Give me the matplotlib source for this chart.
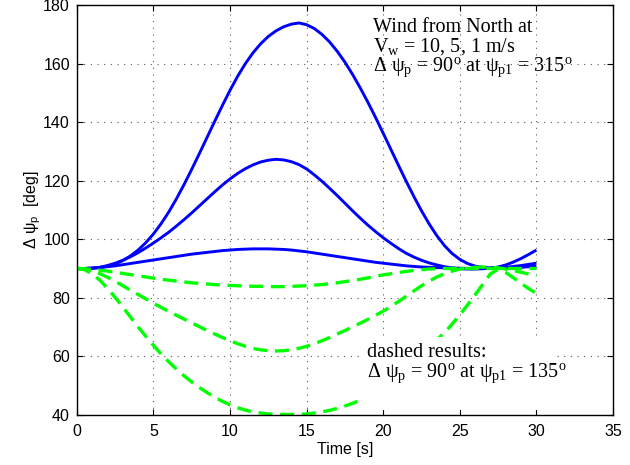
import numpy as np
import matplotlib
matplotlib.use("Agg")
import matplotlib.pyplot as plt
from matplotlib.patches import Rectangle

plt.rcParams['mathtext.fontset'] = 'custom'
plt.rcParams['mathtext.rm'] = 'Liberation Serif'
plt.rcParams['mathtext.it'] = 'Liberation Serif'
plt.rcParams['mathtext.bf'] = 'Liberation Serif:bold'
plt.rcParams['mathtext.sf'] = 'Liberation Sans'
plt.rcParams['font.family'] = ['Liberation Sans', 'DejaVu Sans']

# ---------------- data ----------------
time_s = [i * 0.5 for i in range(61)]  # 0 .. 30 s

blue_large = [90, 90, 90.1, 90.35, 90.8, 91.5, 92.7, 94.3, 96.3, 98.8,
              101.8, 105.3, 109.3, 113.8, 118.7, 123.9, 129.3, 134.8, 140.3, 145.7,
              150.9, 155.7, 160, 163.7, 166.8, 169.3, 171.2, 172.6, 173.5, 173.9,
              173.3, 172.0, 170.0, 167.4, 164.2, 160.5, 156.3, 151.7, 146.8, 141.6,
              136.2, 130.7, 125.2, 119.8, 114.6, 109.7, 105.2, 101.2, 97.8, 95.1,
              93.1, 91.7, 90.8, 90.35, 90.2, 90.2, 90.4, 90.7, 91, 91.4, 91.8]
blue_medium = [90, 90, 90.1, 90.4, 91, 91.8, 92.8, 94, 95.4, 97,
               98.7, 100.5, 102.4, 104.5, 106.7, 109, 111.4, 113.8, 116.2, 118.5,
               120.6, 122.5, 124.1, 125.4, 126.4, 127, 127.3, 127.1, 126.5, 125.5,
               124, 122, 119.8, 117.4, 114.9, 112.3, 109.7, 107.2, 104.8, 102.6,
               100.5, 98.6, 96.8, 95.2, 93.9, 92.8, 91.9, 91.2, 90.6, 90.2,
               89.9, 89.8, 89.8, 89.9, 90.1, 90.5, 91.2, 92.2, 93.4, 94.8, 96.3]
blue_small = [90, 90, 90.1, 90.3, 90.6, 90.9, 91.3, 91.7, 92.1, 92.5,
              92.9, 93.3, 93.7, 94.1, 94.5, 94.9, 95.2, 95.5, 95.8, 96.1,
              96.3, 96.5, 96.6, 96.7, 96.7, 96.7, 96.6, 96.5, 96.3, 96,
              95.7, 95.3, 94.9, 94.5, 94.1, 93.7, 93.3, 92.9, 92.5, 92.1,
              91.8, 91.5, 91.2, 90.9, 90.7, 90.5, 90.4, 90.3, 90.2, 90.1,
              90.1, 90, 90, 90, 90, 90.1, 90.2, 90.3, 90.4, 90.6, 90.8]

green_shallow = [90, 89.9, 89.7, 89.4, 89.1, 88.7, 88.3, 87.9, 87.5, 87.1,
                 86.7, 86.3, 86, 85.7, 85.4, 85.1, 84.9, 84.7, 84.5, 84.3,
                 84.2, 84.1, 84, 83.9, 83.9, 83.8, 83.8, 83.8, 83.9, 84,
                 84.1, 84.3, 84.5, 84.8, 85.1, 85.5, 85.9, 86.3, 86.8, 87.3,
                 87.8, 88.2, 88.6, 89, 89.3, 89.6, 89.8, 89.9, 90, 90,
                 90, 90, 90, 90, 90, 90, 90, 90, 90, 90, 90]
green_medium = [90, 89.8, 89.2, 88.2, 87, 85.6, 84.1, 82.6, 81.1, 79.6,
                78.1, 76.7, 75.3, 74, 72.7, 71.4, 70.1, 68.8, 67.6, 66.4,
                65.3, 64.3, 63.4, 62.7, 62.2, 61.9, 61.8, 61.9, 62.2, 62.7,
                63.4, 64.3, 65.3, 66.4, 67.6, 68.8, 70, 71.3, 72.6, 74,
                75.4, 77, 78.7, 80.5, 82.3, 84.1, 85.7, 87.1, 88.2, 89.1,
                89.8, 90.2, 90.4, 90.5, 90.4, 90.2, 89.8, 89.3, 88.7, 88.1, 87.5]
green_deep = [90, 89.6, 88.2, 86, 83.2, 80.1, 76.8, 73.4, 70, 66.8,
              63.7, 60.8, 58.1, 55.6, 53.3, 51.2, 49.3, 47.6, 46, 44.6,
              43.4, 42.4, 41.6, 41, 40.6, 40.3, 40.15, 40.1, 40.1, 40.15,
              40.3, 40.6, 41, 41.5, 42.2, 43, 43.9, 45, 46.4, 48.1,
              50, 52.1, 54.3, 56.6, 58.9, 61.3, 63.5, 65.7, 68, 71,
              74.2, 77.5, 81, 84.6, 88.2, 89.7, 88.6, 86.8, 84.9, 83.1, 81.4]

xticks = [0, 5, 10, 15, 20, 25, 30, 35]
yticks = [40, 60, 80, 100, 120, 140, 160, 180]

# ---------------- figure ----------------
fig = plt.figure(figsize=(6.3, 4.65), dpi=100)
ax = fig.add_axes([0.122, 0.108, 0.851, 0.881])

for ys in (blue_large, blue_medium, blue_small):
    ax.plot(time_s, ys, color=(0, 0, 1), lw=2.1, solid_capstyle='butt', zorder=2)
for ys in (green_shallow, green_medium, green_deep):
    ax.plot(time_s, ys, color=(0, 1, 0), lw=2.4, linestyle=(0, (4.2, 2.3)), zorder=2.05)

ax.set_xlim(0, 35)
ax.set_ylim(40, 180)
ax.set_xticks(xticks)
ax.set_yticks(yticks)
ax.tick_params(direction='in', top=True, right=True, length=4, width=0.8,
               labelsize=11.5)
ax.tick_params(axis='x', pad=6.5)
ax.tick_params(axis='y', pad=5)
ax.grid(True, color='0.35', linestyle=(0, (1, 5)), linewidth=0.8)
for s in ax.spines.values():
    s.set_linewidth(1.0)

ax.set_xlabel('Time [s]', fontsize=11.5, labelpad=2)
ax.set_ylabel('Δ ψ$_\\mathsf{p}$  [deg]', fontsize=11.5, labelpad=0)

serif = ['Liberation Serif', 'DejaVu Serif']
tkw = dict(fontsize=14.5, family=serif, va='baseline', ha='left', zorder=5)
ax.text(19.33, 170.8, 'Wind from North at', **tkw)
ax.text(19.33, 164.3, r'$\mathrm{V_{w}}$ = 10, 5, 1 m/s', **tkw)
ax.text(19.33, 157.6, r'$\Delta\ \psi_{p}$ = 90$^{o}$ at $\psi_{p1}$ = 315$^{o}$', **tkw)

# white background of the lower annotation (hides curves and grid behind it)
ax.add_patch(Rectangle((18.6, 41.5), 12.6, 25.0, facecolor='white',
                       edgecolor='none', zorder=2.5))
ax.text(18.94, 59.8, 'dashed results:', **tkw)
ax.text(18.94, 53.0, r'$\Delta\ \psi_{p}$ = 90$^{o}$ at $\psi_{p1}$ = 135$^{o}$', **tkw)

fig.savefig('out.png', dpi=100)
